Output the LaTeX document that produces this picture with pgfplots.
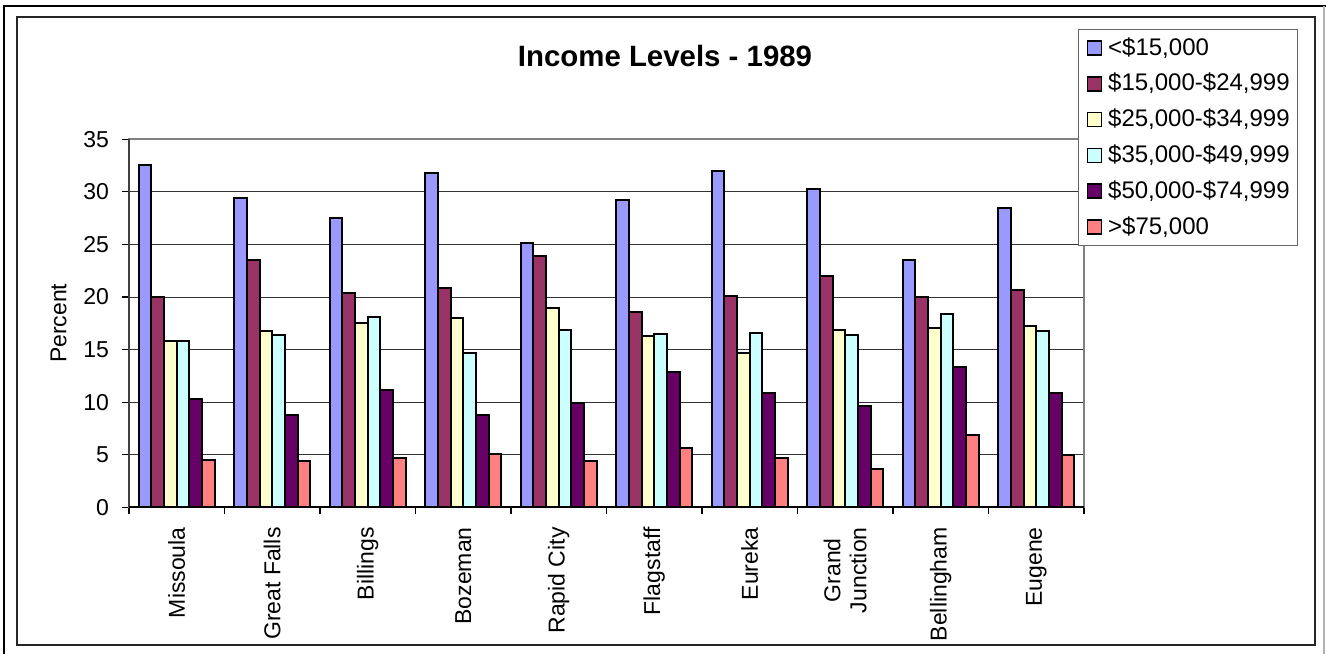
\documentclass[border=0pt]{standalone}
\usepackage{fontspec}
\setmainfont{Liberation Sans}
\usepackage{pgfplots}
\pgfplotsset{compat=1.18}
\definecolor{c1}{HTML}{9999FF}
\definecolor{c2}{HTML}{993366}
\definecolor{c3}{HTML}{FFFFCC}
\definecolor{c4}{HTML}{CCFFFF}
\definecolor{c5}{HTML}{660066}
\definecolor{c6}{HTML}{FF8080}
\begin{document}
\begin{tikzpicture}
\useasboundingbox (0,0) rectangle (663pt,327pt);
\draw[line width=1pt] (2pt,0) -- (2pt,324pt) -- (663pt,324pt);
\draw[line width=0.6pt, black!30] (662pt,0) -- (662pt,324pt);
\draw[line width=1pt, black!85] (8.5pt,4.5pt) rectangle (657.5pt,318.5pt);
\node[font=\fontsize{14.7}{17}\selectfont\bfseries] at (332.5pt,299.25pt) {Income Levels - 1989};
\begin{axis}[
  at={(64.5pt,73.35pt)}, anchor=south west,
  scale only axis, width=477.5pt, height=184pt,
  clip=false,
  xmin=-0.5, xmax=9.5, ymin=0, ymax=35,
  ytick={0,5,...,35},
  xtick={0,...,9},
  xticklabels={Missoula,Great Falls,Billings,Bozeman,Rapid City,Flagstaff,Eureka,{Grand\\Junction},Bellingham,Eugene},
  minor xtick={-0.5,0.5,...,9.5},
  major x tick style={draw=none},
  tick align=outside, tick pos=left,
  major tick length=3.5pt, minor tick length=3.5pt,
  tick style={black, line width=0.6pt},
  ymajorgrids, grid style={black!80, line width=0.5pt},
  axis line style={black!50, line width=1pt},
  /pgf/number format/assume math mode=true,
  ticklabel style={font=\fontsize{11.5}{13}\selectfont},
  xticklabel style={rotate=90, anchor=east, align=center},
  xticklabel shift=3pt,
  yticklabel shift=3pt,
  ylabel={Percent},
  ylabel style={at={(axis description cs:-0.0738,0.5)}, anchor=center, font=\fontsize{11.5}{13}\selectfont},
  legend style={at={(axis description cs:0.9937,1.2997)}, anchor=north west, draw=black!60, line width=0.6pt, fill=white,
    font=\fontsize{12}{14}\selectfont, inner xsep=4pt, inner ysep=3.7pt, row sep=6.9pt, column sep=3pt,
    nodes={inner sep=0pt, text height=9pt, text depth=2pt}},
  legend cell align=left,
  every axis plot post/.append style={legend image code/.code={\draw[##1,line width=0.8pt] (0pt,-3.5pt) rectangle (7pt,3.5pt);}},
]
\addplot[ybar, bar width=0.1332, bar shift=-0.333, fill=c1, draw=black, line width=1pt] coordinates {(0,32.6) (1,29.4) (2,27.5) (3,31.8) (4,25.1) (5,29.2) (6,32.0) (7,30.3) (8,23.5) (9,28.5)};
\addlegendentry{<\$15,000}
\addplot[ybar, bar width=0.1332, bar shift=-0.1998, fill=c2, draw=black, line width=1pt] coordinates {(0,20.0) (1,23.5) (2,20.4) (3,20.9) (4,23.9) (5,18.6) (6,20.1) (7,22.0) (8,20.0) (9,20.7)};
\addlegendentry{\$15,000-\$24,999}
\addplot[ybar, bar width=0.1332, bar shift=-0.0666, fill=c3, draw=black, line width=1pt] coordinates {(0,15.8) (1,16.8) (2,17.5) (3,18.0) (4,19.0) (5,16.3) (6,14.7) (7,16.9) (8,17.1) (9,17.2)};
\addlegendentry{\$25,000-\$34,999}
\addplot[ybar, bar width=0.1332, bar shift=0.0666, fill=c4, draw=black, line width=1pt] coordinates {(0,15.8) (1,16.4) (2,18.1) (3,14.7) (4,16.9) (5,16.5) (6,16.6) (7,16.4) (8,18.4) (9,16.8)};
\addlegendentry{\$35,000-\$49,999}
\addplot[ybar, bar width=0.1332, bar shift=0.1998, fill=c5, draw=black, line width=1pt] coordinates {(0,10.3) (1,8.8) (2,11.2) (3,8.8) (4,9.9) (5,12.9) (6,10.9) (7,9.6) (8,13.3) (9,10.9)};
\addlegendentry{\$50,000-\$74,999}
\addplot[ybar, bar width=0.1332, bar shift=0.333, fill=c6, draw=black, line width=1pt] coordinates {(0,4.5) (1,4.4) (2,4.7) (3,5.1) (4,4.4) (5,5.6) (6,4.7) (7,3.6) (8,6.9) (9,5.0)};
\addlegendentry{>\$75,000}
\draw[black!75, line width=1pt] (axis cs:-0.5,0) -- (axis cs:-0.5,35);
\draw[black, line width=1pt] (axis cs:-0.5,0) -- (axis cs:9.5,0);
\end{axis}
\end{tikzpicture}
\end{document}
